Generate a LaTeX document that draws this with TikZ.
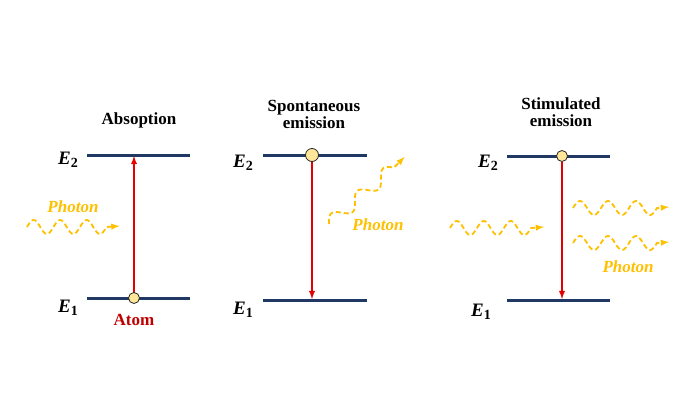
\documentclass[tikz,border=0pt]{standalone}
\usepackage{fontspec}
\setmainfont{Liberation Serif}
\usepackage{tikz}
\usetikzlibrary{arrows}

\definecolor{levelblue}{RGB}{31,56,100}
\definecolor{photonyellow}{RGB}{255,192,0}
\definecolor{arrowred}{RGB}{226,0,0}
\definecolor{atomred}{RGB}{192,0,0}
\definecolor{atomfill}{RGB}{255,230,153}

\newcommand{\energy}[1]{{\bfseries\itshape E}\raisebox{-0.4ex}{\bfseries\fontsize{14}{14}\selectfont #1}}

\begin{document}
\begin{tikzpicture}[x=1pt,y=-1pt,
        level/.style={levelblue,line width=3},
        transition/.style={arrowred,line width=1.8,-latex},
        atom/.style={circle,draw=black!85,fill=atomfill,line width=0.8,
            minimum size=11,inner sep=0},
        photon/.style={photonyellow,line width=1.8,dash pattern=on 5pt off 3pt,-latex},
        title/.style={font=\bfseries\fontsize{17}{20}\selectfont,align=center},
        label/.style={font=\fontsize{19}{19}\selectfont},
        photonlabel/.style={photonyellow,font=\bfseries\itshape\fontsize{17}{17}\selectfont}]
        \useasboundingbox (0,0) rectangle (700,394);

        % Absorption
        \node [title] (tabs) at (139,120) {Absoption};
        \draw [level] (87,155) coordinate (a2l) -- (190,155) coordinate (a2r);
        \draw [level] (87,298) coordinate (a1l) -- (190,298) coordinate (a1r);
        \coordinate (a2) at (134,156);
        \node [label] (ea2) at (68,160) {\energy{2}};
        \node [label] (ea1) at (68,308) {\energy{1}};
        \draw [transition] (134,293) -- (a2);
        \node [atom] (atoma) at (134,298) {};
        \node [atomred,font=\bfseries\fontsize{17}{17}\selectfont] (tatom) at (134,320) {Atom};
        \coordinate (pa1) at (27,227);
        \draw [photon,shift={(pa1)}] plot [domain=0:79.5,samples=80,smooth]
            (\x,{-7*sin(\x/26.5*360)}) -- ++(13,-1);
        \node [photonlabel] (la) at (73,207) {Photon};

        % Spontaneous emission
        \node [title] (tspon) at (314,114) {Spontaneous\\[-3pt]emission};
        \draw [level] (263,155) coordinate (b2l) -- (367,155) coordinate (b2r);
        \draw [level] (263,300) coordinate (b1l) -- (367,300) coordinate (b1r);
        \coordinate (b1) at (312,299);
        \node [label] (eb2) at (243,163) {\energy{2}};
        \node [label] (eb1) at (243,310) {\energy{1}};
        \node [atom,minimum size=13] (atomb) at (312,155) {};
        \draw [transition] (atomb) -- (b1);
        \coordinate (pb1) at (329,224);
        \draw [photon,shift={(pb1)},rotate=41] plot [domain=0:86,samples=80,smooth]
            (\x,{-6.5*sin(\x/34.4*360)}) -- ++(15,-1);
        \node [photonlabel] (lb) at (378,225) {Photon};

        % Stimulated emission
        \node [title] (tstim) at (561,112) {Stimulated\\[-3pt]emission};
        \draw [level] (507,156) coordinate (c2l) -- (610,156) coordinate (c2r);
        \draw [level] (507,300) coordinate (c1l) -- (610,300) coordinate (c1r);
        \coordinate (c1) at (562,299);
        \node [label] (ec2) at (488,163) {\energy{2}};
        \node [label] (ec1) at (481,312) {\energy{1}};
        \node [atom] (atomc) at (562,156) {};
        \draw [transition] (atomc) -- (c1);
        \coordinate (pc1) at (450,228);
        \draw [photon,shift={(pc1)}] plot [domain=0:81,samples=80,smooth]
            (\x,{-7*sin(\x/27*360)}) -- ++(13,-1);
        \coordinate (pc2) at (573,208);
        \draw [photon,shift={(pc2)}] plot [domain=0:84,samples=80,smooth]
            (\x,{-7*sin(\x/28*360)}) -- ++(12,-1);
        \coordinate (pc3) at (573,243);
        \draw [photon,shift={(pc3)}] plot [domain=0:84,samples=80,smooth]
            (\x,{-7*sin(\x/28*360)}) -- ++(12,-1);
        \node [photonlabel] (lc) at (628,267) {Photon};
    \end{tikzpicture}
\end{document}
